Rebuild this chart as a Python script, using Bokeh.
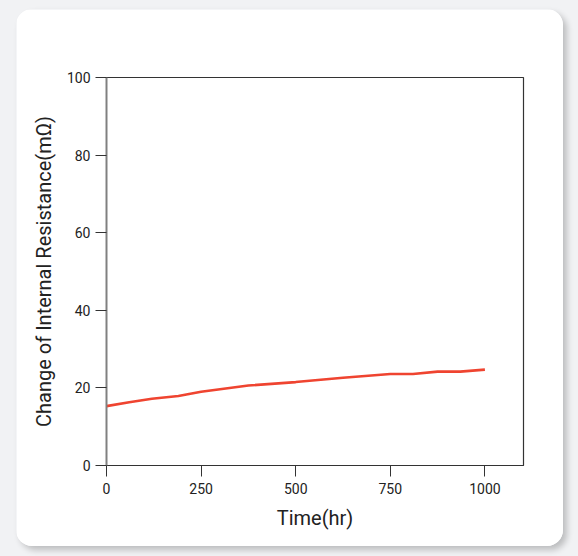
from bokeh.plotting import figure
from bokeh.layouts import column, row
from bokeh.models import Range1d, FixedTicker, Spacer, InlineStyleSheet
from bokeh.embed import file_html
from bokeh.resources import INLINE

time_hr = [0, 60, 120, 190, 250, 375, 500, 625, 750, 810, 875, 935, 1000]
resistance = [15.3, 16.3, 17.2, 17.9, 19.0, 20.6, 21.5, 22.6, 23.6, 23.6, 24.2, 24.2, 24.7]
x_ticks = [0, 250, 500, 750, 1000]
y_ticks = [0, 20, 40, 60, 80, 100]

card_css = InlineStyleSheet(css=":host { border-radius: 16px; overflow: hidden; box-shadow: 4px 4px 6px rgba(0,0,0,0.22); }")

p = figure(width=547, height=537, output_backend="svg", toolbar_location=None,
           x_range=Range1d(0, 1102), y_range=Range1d(0, 100),
           frame_width=417, frame_height=388,
           min_border_left=90, min_border_right=40, min_border_top=68, min_border_bottom=81,
           stylesheets=[card_css])
p.background_fill_color = "white"
p.border_fill_color = "white"
p.outline_line_color = "#333333"
p.outline_line_width = 1.2
p.xgrid.visible = False
p.ygrid.visible = False

p.line(time_hr, resistance, line_color="#ef4430", line_width=2.6)

font = "Roboto"
for ax, ticks in ((p.xaxis, x_ticks), (p.yaxis, y_ticks)):
    ax.ticker = FixedTicker(ticks=ticks)
    ax.major_tick_out = 11
    ax.major_tick_in = 0
    ax.minor_tick_line_color = None
    ax.major_tick_line_color = "#333333"
    ax.major_label_text_font = font
    ax.major_label_text_font_size = "14px"
    ax.major_label_text_color = "#222222"
    ax.axis_label_text_font = font
    ax.axis_label_text_font_size = "20px"
    ax.axis_label_text_font_style = "normal"
    ax.axis_label_text_color = "#222222"

p.xaxis.axis_label = "Time(hr)"
p.xaxis.axis_line_color = "#333333"
p.xaxis.major_label_standoff = 6
p.xaxis.axis_label_standoff = 9
p.yaxis.axis_label = "Change of Internal Resistance(mΩ)"
p.yaxis.axis_line_color = "#808080"
p.yaxis.axis_line_width = 1.8
p.yaxis.major_label_standoff = 5
p.yaxis.axis_label_standoff = 8

layout = column(Spacer(height=9, width=578),
                row(Spacer(width=16, height=537), p),
                Spacer(height=10, width=578),
                styles={"background-color": "#f1f2f4"})

open("out.html", "w").write(file_html(layout, INLINE))
